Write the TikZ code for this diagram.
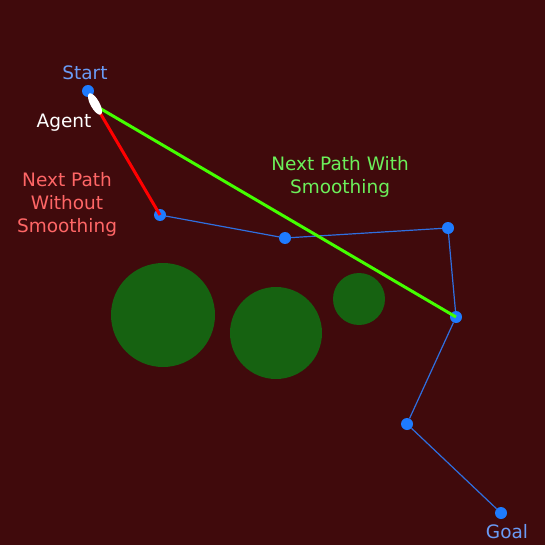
\documentclass[tikz,border=0pt]{standalone}
\usepackage{fontspec}
\setmainfont{DejaVu Sans}
\usetikzlibrary{shapes.geometric}
\definecolor{bgred}{HTML}{400A0C}
\definecolor{obsgreen}{HTML}{166211}
\definecolor{wpblue}{HTML}{1E7BFF}
\definecolor{pathblue}{HTML}{2F6FE0}
\definecolor{tagblue}{HTML}{6A9BF5}
\definecolor{tagred}{HTML}{FF6666}
\definecolor{taggreen}{HTML}{6CF05A}
\definecolor{smoothgreen}{HTML}{44FF00}
\tikzstyle{waypoint}=[circle,fill=wpblue,minimum size=12pt,inner sep=0pt]
\tikzstyle{obstacle}=[circle,fill=obsgreen,inner sep=0pt]
\tikzstyle{tag}=[font=\fontsize{18.5}{23}\selectfont,align=center,inner sep=0pt]
\tikzstyle{pathedge}=[draw,pathblue,line width=1.2pt]
\tikzstyle{nextedge}=[draw,line width=3pt]

\begin{document}
\begin{tikzpicture}[x=1pt,y=-1pt]
    \fill[bgred] (0,0) rectangle (545,545);
    \useasboundingbox (0,0) rectangle (545,545);
    % obstacles
    \foreach \obsname/\x/\y/\r in {o1/163/315/52, o2/276/333/46, o3/359/299/26}
    {
        \node[obstacle, minimum size=2*\r pt] (\obsname) at (\x,\y) {};
    };
    % waypoints
    \foreach \nodename/\x/\y in {
      s/88/91, p1/160/215, p2/285/238, p3/448/228,
      p4/456/317, p5/407/424, g/501/513}
    {
        \node[waypoint] (\nodename) at (\x,\y) {};
    };
    % path edges
    \path
    \foreach \startnode/\endnode in {p1/p2, p2/p3, p3/p4, p4/p5, p5/g}
    {
        (\startnode) edge[pathedge] (\endnode)
    };
    % agent and next paths
    \coordinate (agentc) at (96,106);
    \draw[nextedge,red] (agentc) -- (p1.center);
    \draw[nextedge,smoothgreen] (agentc) -- (p4.center);
    \node[ellipse, fill=white, minimum width=9pt, minimum height=24pt, inner sep=0pt, rotate=29] (agent) at (95,104) {};
    % labels
    \node[tag, tagblue] (starttag) at (85,73) {Start};
    \node[tag, white] (agenttag) at (64,123) {Agent};
    \node[tag, tagred] (rawtag) at (67,204) {Next Path\\Without\\Smoothing};
    \node[tag, taggreen] (smoothtag) at (340,177) {Next Path With\\Smoothing};
    \node[tag, tagblue] (goaltag) at (507,532) {Goal};
\end{tikzpicture}
\end{document}
